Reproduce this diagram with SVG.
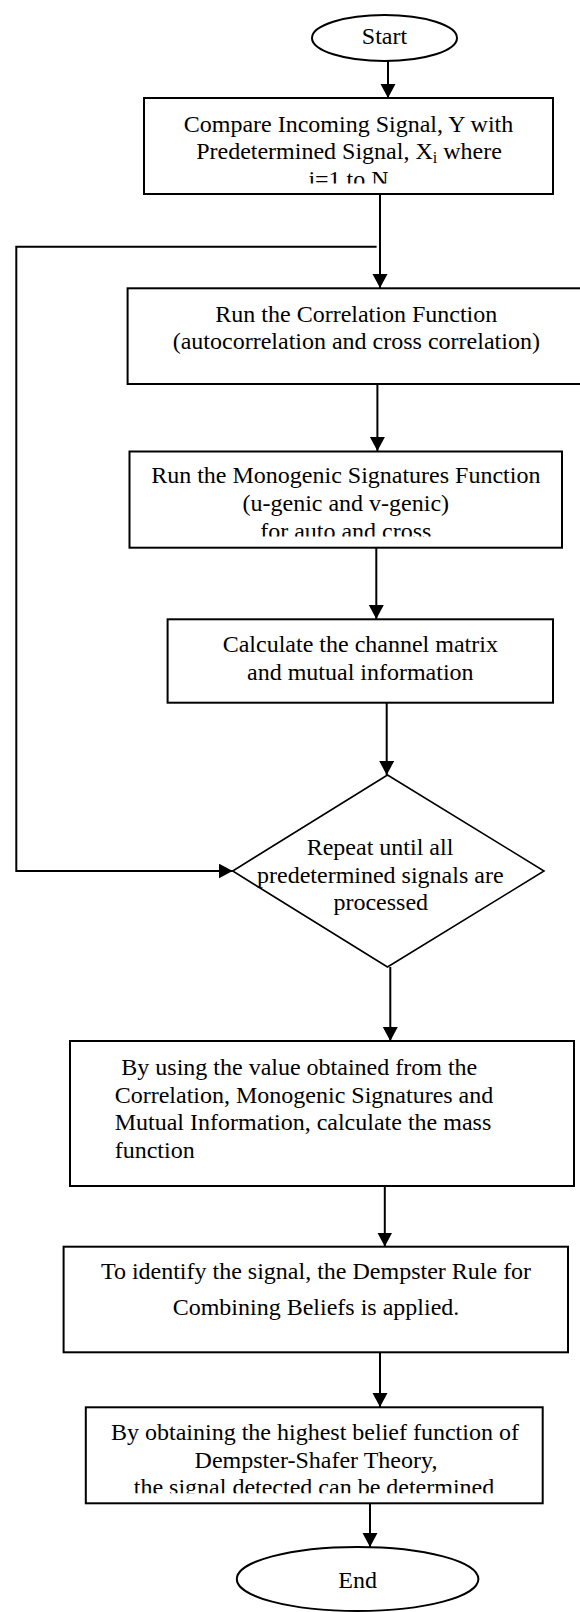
<svg xmlns="http://www.w3.org/2000/svg" width="580" height="1612" viewBox="0 0 580 1612">
  <style>
    .shape { fill: #ffffff; stroke: #000000; stroke-width: 2; }
    .diamond { fill: #ffffff; stroke: #000000; stroke-width: 1.6; }
    .conn { fill: none; stroke: #000000; stroke-width: 2; }
    .t { font-family: "Liberation Serif", "Times New Roman", serif; font-size: 24px; fill: #000000; }
    .c { text-anchor: middle; }
  </style>
  <defs>
    <marker id="arrow" markerUnits="userSpaceOnUse" markerWidth="16" markerHeight="16" refX="14" refY="7.5" orient="auto">
      <path d="M0,0 L14,7.5 L0,15 z" fill="#000000"/>
    </marker>
    <clipPath id="clip1"><rect x="144" y="98" width="409" height="85.5"/></clipPath>
    <clipPath id="clip3"><rect x="129.5" y="451.5" width="432.5" height="85"/></clipPath>
    <clipPath id="clip7"><rect x="85.8" y="1407.3" width="457" height="86"/></clipPath>
  </defs>
  <rect width="580" height="1612" fill="#ffffff"/>

  <g id="connectors">
    <line class="conn" x1="388" y1="60" x2="388" y2="98" marker-end="url(#arrow)"/>
    <line class="conn" x1="380" y1="194" x2="380" y2="288" marker-end="url(#arrow)"/>
    <line class="conn" x1="377.4" y1="384" x2="377.4" y2="451" marker-end="url(#arrow)"/>
    <line class="conn" x1="376.3" y1="547.7" x2="376.3" y2="619" marker-end="url(#arrow)"/>
    <line class="conn" x1="386.7" y1="702.7" x2="386.7" y2="775" marker-end="url(#arrow)"/>
    <line class="conn" x1="390.3" y1="967" x2="390.3" y2="1041" marker-end="url(#arrow)"/>
    <line class="conn" x1="384.8" y1="1186" x2="384.8" y2="1246.5" marker-end="url(#arrow)"/>
    <line class="conn" x1="380" y1="1347" x2="380" y2="1407" marker-end="url(#arrow)"/>
    <line class="conn" x1="370" y1="1500" x2="370" y2="1547" marker-end="url(#arrow)"/>
    <path class="conn" d="M376.6,246.7 H16.3 V871 H232.7" marker-end="url(#arrow)"/>
  </g>

  <g id="start">
    <ellipse class="shape" cx="384.5" cy="38" rx="72.5" ry="23"/>
    <text class="t c" x="384.5" y="44">Start</text>
  </g>

  <g id="compare">
    <rect class="shape" x="144" y="98" width="409" height="96"/>
    <g clip-path="url(#clip1)">
      <text class="t c" x="348.5" y="131.7">Compare Incoming Signal, Y with</text>
      <text class="t c" x="349" y="159.3">Predetermined Signal, X<tspan font-size="16" dy="4">i</tspan><tspan dy="-4"> where</tspan></text>
      <text class="t c" x="348.5" y="187">i=1 to N</text>
    </g>
  </g>

  <g id="correlation">
    <rect class="shape" x="127.6" y="288.3" width="457.4" height="95.7"/>
    <text class="t c" x="356.3" y="321.5">Run the Correlation Function</text>
    <text class="t c" x="356.3" y="349.1">(autocorrelation and cross correlation)</text>
  </g>

  <g id="monogenic">
    <rect class="shape" x="129.5" y="451.5" width="432.5" height="96.2"/>
    <g clip-path="url(#clip3)">
      <text class="t c" x="345.8" y="483.3">Run the Monogenic Signatures Function</text>
      <text class="t c" x="345.8" y="510.9">(u-genic and v-genic)</text>
      <text class="t c" x="345.8" y="538.5">for auto and cross</text>
    </g>
  </g>

  <g id="channel">
    <rect class="shape" x="167.6" y="619.3" width="385.4" height="83.4"/>
    <text class="t c" x="360.3" y="652.3">Calculate the channel matrix</text>
    <text class="t c" x="360.3" y="680.3">and mutual information</text>
  </g>

  <g id="repeat">
    <polygon class="diamond" points="387.5,775 544,871 387.5,967 232.7,871"/>
    <text class="t c" x="380" y="855">Repeat until all</text>
    <text class="t c" x="380.3" y="882.6">predetermined signals are</text>
    <text class="t c" x="380.8" y="910">processed</text>
  </g>

  <g id="mass">
    <rect class="shape" x="70" y="1041" width="504" height="145"/>
    <text class="t" x="121.3" y="1075">By using the value obtained from the</text>
    <text class="t" x="114.7" y="1102.5">Correlation, Monogenic Signatures and</text>
    <text class="t" x="114.7" y="1130">Mutual Information, calculate the mass</text>
    <text class="t" x="114.7" y="1157.5">function</text>
  </g>

  <g id="dempster">
    <rect class="shape" x="63.6" y="1246.7" width="504.4" height="105.6"/>
    <text class="t c" x="316" y="1279.3">To identify the signal, the Dempster Rule for</text>
    <text class="t c" x="316" y="1315">Combining Beliefs is applied.</text>
  </g>

  <g id="belief">
    <rect class="shape" x="85.8" y="1407.3" width="456.9" height="96"/>
    <g clip-path="url(#clip7)">
      <text class="t c" x="315" y="1440">By obtaining the highest belief function of</text>
      <text class="t c" x="316" y="1467.6">Dempster-Shafer Theory,</text>
      <text class="t c" x="314" y="1495.2">the signal detected can be determined</text>
    </g>
  </g>

  <g id="end">
    <ellipse class="shape" cx="357.6" cy="1579" rx="120.8" ry="32"/>
    <text class="t c" x="357.6" y="1588.3">End</text>
  </g>
</svg>
